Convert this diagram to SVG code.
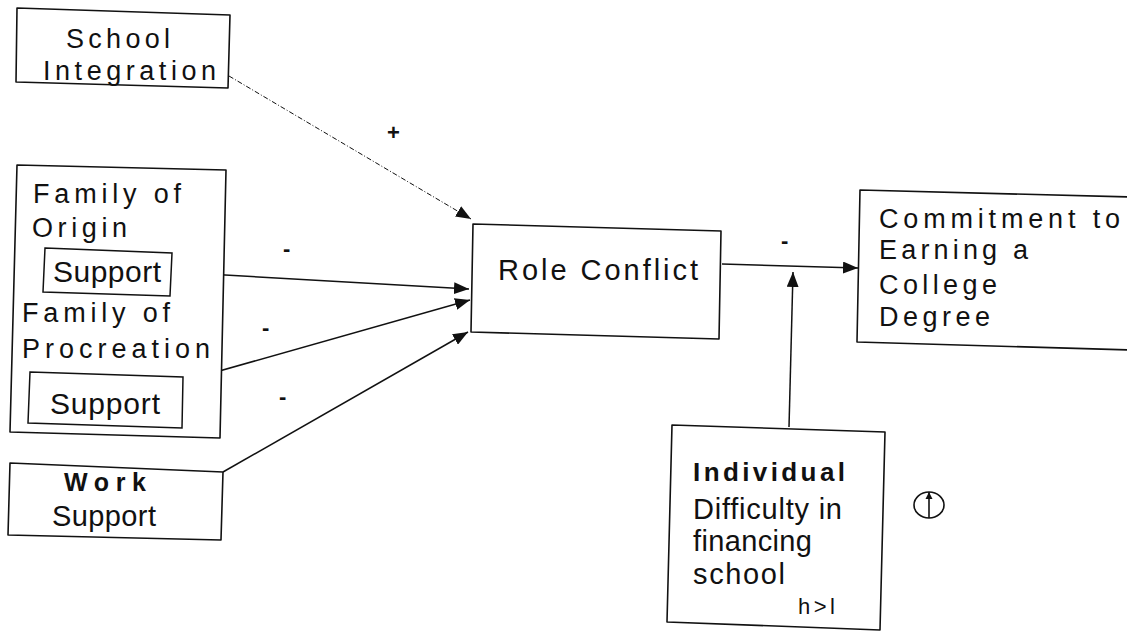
<svg xmlns="http://www.w3.org/2000/svg" width="1127" height="635" viewBox="0 0 1127 635">
  <defs>
    <marker id="arrow" markerUnits="userSpaceOnUse" markerWidth="16" markerHeight="12" refX="15" refY="6" orient="auto">
      <path d="M0,0 L15,6 L0,12 Z" fill="#111"/>
    </marker>
    <marker id="arrow-small" markerUnits="userSpaceOnUse" markerWidth="8" markerHeight="8" refX="7" refY="4" orient="auto">
      <path d="M0,0.5 L7,4 L0,7.5 Z" fill="#111"/>
    </marker>
  </defs>
  <style>
    .box { fill: #fff; stroke: #111; stroke-width: 1.6; stroke-linejoin: round; }
    .inner { fill: none; stroke: #111; stroke-width: 1.5; }
    .t { font-family: "Liberation Sans", Arial, sans-serif; fill: #111; }
    .wide { font-size: 27px; }
    .norm { font-size: 30px; }
    .bold { font-weight: bold; }
    .edge { fill: none; stroke: #111; stroke-width: 1.5; }
    .dashed { stroke-width: 1; stroke-dasharray: 5 2 1 2; }
    .sign { font-family: "Liberation Sans", Arial, sans-serif; font-size: 22px; font-weight: bold; fill: #111; }
  </style>
  <rect width="1127" height="635" fill="#fff"/>

  <!-- connectors -->
  <g id="connectors">
    <line class="edge dashed" x1="229" y1="76" x2="471" y2="219" marker-end="url(#arrow)"/>
    <line class="edge" x1="172" y1="272" x2="469" y2="289" marker-end="url(#arrow)"/>
    <line class="edge" x1="184" y1="381" x2="470" y2="300" marker-end="url(#arrow)"/>
    <line class="edge" x1="223" y1="472" x2="468" y2="332" marker-end="url(#arrow)"/>
    <line class="edge" x1="722" y1="264" x2="858" y2="268" marker-end="url(#arrow)"/>
    <line class="edge" x1="789" y1="427" x2="793" y2="272" marker-end="url(#arrow)"/>
    <text class="sign" x="387" y="140" font-weight="normal" font-size="20">+</text>
    <text class="sign" x="283" y="256">-</text>
    <text class="sign" x="262" y="335">-</text>
    <text class="sign" x="279" y="404">-</text>
    <text class="sign" x="781" y="248">-</text>
  </g>

  <!-- School Integration -->
  <g id="school-integration">
    <polygon class="box" points="17,8 230,15 228,88 16,82"/>
    <text class="t wide" x="66" y="48" textLength="104" lengthAdjust="spacing">School</text>
    <text class="t wide" x="43" y="80" textLength="173" lengthAdjust="spacing">Integration</text>
  </g>

  <!-- Family of Origin / Family of Procreation -->
  <g id="family">
    <polygon class="box" points="17,165 226,170 220,438 10,432"/>
    <text class="t wide" x="33" y="203" textLength="148" lengthAdjust="spacing">Family of</text>
    <text class="t wide" x="32" y="237" textLength="95" lengthAdjust="spacing">Origin</text>
    <g id="family-origin-support">
      <polygon class="inner" points="45,248 172,253 170,296 43,292"/>
      <text class="t norm" x="53" y="282" textLength="108" lengthAdjust="spacing">Support</text>
    </g>
    <text class="t wide" x="22" y="322" textLength="148" lengthAdjust="spacing">Family of</text>
    <text class="t wide" x="22" y="358" textLength="188" lengthAdjust="spacing">Procreation</text>
    <g id="family-procreation-support">
      <polygon class="inner" points="30,372 183,377 182,428 28,423"/>
      <text class="t norm" x="50" y="414" textLength="110" lengthAdjust="spacing">Support</text>
    </g>
  </g>

  <!-- Work Support -->
  <g id="work-support">
    <polygon class="box" points="10,463 223,472 221,540 8,535"/>
    <text class="t bold" font-size="25" x="64" y="491" textLength="82" lengthAdjust="spacing">Work</text>
    <text class="t" font-size="29" x="52" y="526" textLength="104" lengthAdjust="spacing">Support</text>
  </g>

  <!-- Role Conflict -->
  <g id="role-conflict">
    <polygon class="box" points="473,224 721,231 719,339 471,332"/>
    <text class="t" font-size="29" x="498" y="280" textLength="200" lengthAdjust="spacing">Role Conflict</text>
  </g>

  <!-- Commitment to Earning a College Degree -->
  <g id="commitment">
    <path class="box" d="M1130,197 L860,190 L857,342 L1130,350"/>
    <text class="t wide" x="879" y="228" textLength="241" lengthAdjust="spacing">Commitment to</text>
    <text class="t wide" x="879" y="259" textLength="149" lengthAdjust="spacing">Earning a</text>
    <text class="t wide" x="879" y="294" textLength="118" lengthAdjust="spacing">College</text>
    <text class="t wide" x="879" y="326" textLength="111" lengthAdjust="spacing">Degree</text>
  </g>

  <!-- Individual: Difficulty in financing school -->
  <g id="individual">
    <polygon class="box" points="672,425 885,432 880,630 667,622"/>
    <text class="t bold" font-size="26" x="693" y="481" textLength="152" lengthAdjust="spacing">Individual</text>
    <text class="t" font-size="29" x="693" y="519" textLength="149" lengthAdjust="spacing">Difficulty in</text>
    <text class="t" font-size="29" x="693" y="551" textLength="119" lengthAdjust="spacing">financing</text>
    <text class="t" font-size="29" x="693" y="584" textLength="92" lengthAdjust="spacing">school</text>
    <text class="t" font-size="22" x="798" y="614" textLength="37" lengthAdjust="spacing">h&gt;l</text>
  </g>

  <!-- circled upward arrow symbol -->
  <g id="up-symbol">
    <ellipse cx="929" cy="505" rx="15" ry="13" fill="none" stroke="#111" stroke-width="1.6"/>
    <line x1="929" y1="518" x2="929" y2="492" stroke="#111" stroke-width="1.6" marker-end="url(#arrow-small)"/>
  </g>
</svg>
